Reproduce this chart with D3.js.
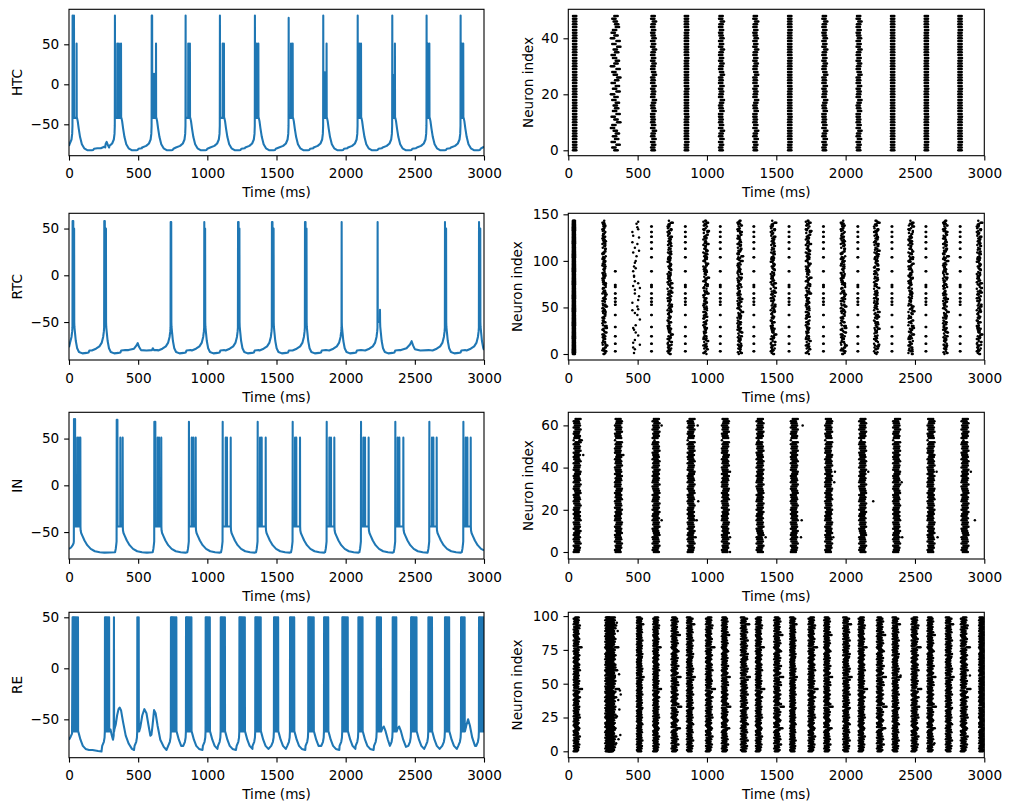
<!DOCTYPE html>
<html lang="en">
<head>
<meta charset="UTF-8">
<title>Thalamic network traces and rasters</title>
<script src="https://cdn.jsdelivr.net/npm/d3@7"></script>
<style>
  body { margin: 0; background: #fff; }
  svg text { font-family: "DejaVu Sans", sans-serif; fill: #000; }
</style>
</head>
<body>
<div id="chart"></div>
<script>
// ---- data ----
const xTicks = [0, 500, 1000, 1500, 2000, 2500, 3000];

// voltage traces: each burst = [onset ms, [[dt, peak, trough?]...], postShape, usePre]
const htcPre = [[-70, -79], [-40, -77], [-20, -74], [-8, -69], [-3, -62], [-1, -52]];
const htcPost = [[[3, -42], [8, -46], [15, -55], [25, -66], [38, -75], [55, -80], [80, -82.5], [110, -82.5], [120, -82.2], [126, -80.5], [150, -80]]];
const htcBursts = [
  [26, [[0, 86], [10, 86], [29, 51]]],
  [332, [[0, 86], [17, 51], [29, 51], [44, 51]]],
  [598, [[0, 86], [3, 86], [17, 13], [31, 51]]],
  [843, [[0, 86], [19, 51], [31, 51]]],
  [1091, [[0, 86], [20, 51], [29, 51]]],
  [1344, [[0, 86], [13, 51], [25, 51]]],
  [1588, [[0, 83], [17, 51], [29, 51]]],
  [1838, [[0, 86], [12, 15], [24, 51]]],
  [2087, [[0, 86], [12, 51], [24, 51]]],
  [2337, [[0, 86], [7, 12], [19, 51]]],
  [2585, [[0, 86], [8, 51], [20, 51]]],
  [2831, [[0, 86], [10, 51], [19, 51]]]
];
const htcExtra = [[0, -77], [230, -80], [255, -78], [265, -74.5], [272, -72], [280, -75.5], [290, -79], [3000, -78]];

const rtcPre = [[-90, -80.5], [-60, -78.5], [-35, -76], [-18, -72], [-8, -66], [-3, -60], [-1, -56]];
const rtcPost = [[[2, -55], [6, -61], [12, -70], [22, -78], [35, -82], [60, -83.5], [90, -83], [105, -82.5], [110, -80.5], [140, -80]]];
const rtcBursts = [
  [26, [[0, 58], [5, 58], [11, 50]]],
  [255, [[0, 58], [4, 58], [12, 50]]],
  [735, [[0, 57], [4, 57]]],
  [978, [[0, 57], [6, 50]]],
  [1222, [[0, 57], [4, 57], [10, 50]]],
  [1467, [[0, 57], [4, 57], [12, 50]]],
  [1706, [[0, 57], [4, 57], [11, 50]]],
  [1971, [[0, 57]]],
  [2231, [[0, 57], [17, -37]]],
  [2718, [[0, 57], [8, 50]]],
  [2964, [[0, 57], [9, 50]]]
];
const rtcExtra = [[0, -77], [430, -80], [470, -78.5], [488, -75], [497, -72.5], [506, -76.5], [520, -80],
  [560, -80.5], [600, -80], [606, -78], [614, -80], [640, -80], [2400, -80], [2440, -78], [2465, -74],
  [2477, -70.5], [2487, -75], [2500, -79], [2540, -80.5], [2600, -80], [3000, -80]];

const inPre = [[-12, -71.5], [-7, -68], [-3, -63], [-1, -60]];
const inPost = [[[2, -48], [6, -51], [15, -54], [30, -59], [50, -64], [75, -68], [105, -70.5], [140, -71.5], [175, -72]]];
const inBursts = [
  [36, [[0, 71], [8, 71], [24, 51], [36, 51], [46, 51]], 0, 0],
  [345, [[0, 70], [5, 70], [26, 51], [43, 51]]],
  [617, [[0, 68], [7, 68], [24, 51], [34, 51], [50, 51]]],
  [867, [[0, 68], [20, 51], [32, 51], [49, 51]]],
  [1111, [[0, 68], [22, 51], [31, 51], [58, 51]]],
  [1364, [[0, 68], [17, 51], [29, 51], [58, 51]]],
  [1617, [[0, 68], [17, 51], [26, 51], [53, 51]]],
  [1863, [[0, 68], [19, 51], [31, 51], [55, 51]]],
  [2111, [[0, 68], [17, 51], [29, 51], [55, 51]]],
  [2359, [[0, 68], [17, 51], [29, 51], [58, 51]]],
  [2605, [[0, 68], [19, 51], [29, 51], [53, 51]]],
  [2851, [[0, 68], [17, 51], [29, 51], [53, 51]]]
];
const inExtra = [[0, -68], [15, -66.5], [27, -64], [33, -62], [35, -60], [3000, -69.5]];

const rePre = [[-20, -76], [-8, -72], [-3, -68], [-1, -62]];
const rePost = [
  [[2, -62], [8, -65], [18, -70], [35, -76], [55, -79], [80, -80]],
  [[2, -62], [10, -59], [20, -57], [32, -61], [50, -70], [70, -77]],
  [[2, -62], [12, -56], [25, -50], [38, -56], [55, -68], [75, -76]]
];
const reSpikeSets = [[0, 4, 8, 13, 18, 24, 31, 39], [0, 5, 10, 16, 23, 30], [0, 5, 11, 18, 26], [0, 10], [0]];
// [onset, spike set, post shape, usePre]
const reBurstList = [
  [26, 0, 0, 0], [260, 1, -1, 1], [325, 4, -1, 0], [494, 3, -1, 1], [737, 0, 0, 1], [846, 0, 0, 1],
  [988, 1, 0, 1], [1097, 1, 0, 1], [1232, 0, 0, 1], [1347, 0, 0, 1], [1482, 1, 0, 1], [1598, 1, 0, 1],
  [1730, 0, 0, 1], [1844, 1, 0, 1], [1976, 0, 0, 1], [2092, 1, 0, 1], [2225, 1, 1, 1], [2340, 2, 1, 1],
  [2473, 0, 0, 1], [2598, 2, 0, 1], [2718, 1, 0, 1], [2834, 2, 2, 1], [2964, 1, 0, 1]
];
const reExtra = [[0, -70], [12, -67], [22, -64], [170, -80], [210, -81], [235, -81.5],
  [293, -62], [300, -60], [310, -66], [318, -70], [323, -66],
  [328, -60], [338, -55], [348, -46], [358, -40], [366, -38.5], [376, -41], [390, -52], [410, -66],
  [432, -74], [455, -79], [470, -80],
  [507, -62], [515, -58], [530, -46], [545, -40], [560, -44], [575, -56], [588, -66], [596, -65],
  [604, -56], [615, -41], [626, -44], [640, -56], [660, -70], [685, -77], [705, -80], [3000, -34]];

// rasters: bursts = [first spike ms, shift unit ms, shift row, count row]
const htcNeurons = 49;
const htcLags = [0, 8, 16, 24];
const htcRasterBursts = [[34, 0, 0], [307, 5, 1], [597, 3, 2], [840, 3, 0], [1087, 3, 2], [1334, 3, 2],
  [1585, 2, 0], [1832, 3, 2], [2079, 3, 2], [2327, 0, 3], [2570, 2, 0], [2813, 2, 0]];
const htcShifts = [
  "000100000000100000000010000000000100000000010000",
  "528163740295183647250837169428057316492805137642",
  "102030140201003102401203010420130201402031020140",
  "000000000000000000000000000000000000000000000000"
];

const rtcNeurons = 144;
const rtcOnsetLags = [0, 5, 10, 15];
const rtcOnset = [[33, 0, 0]];
const rtcLags = [0, 6, 12];
const rtcMainBursts = [[246, 2.6, 0, 0], [462, 6, 1, 1], [716, 3.2, 1, 0], [974, 3.2, 2, 2], [1220, 3.2, 0, 2],
  [1460, 3.5, 1, 0], [1713, 3.2, 2, 2], [1965, 3.5, 0, 0], [2205, 3.5, 1, 2], [2453, 3.5, 2, 0], [2703, 3.2, 0, 2], [2946, 3.5, 1, 0]];
const rtcShifts = [
  "381605274918052736184029640381725063175048362917503826147059268170435812907352418063428061537240715384062951036287145803852604317268140573826035",
  "527043816290184306527814362815047362095274613850731628405176048513726309614270358142270531864027853046172538416825307164025738614250387160425873",
  "703518264037429607153824156382704615840251376098362704185243517038462170284615037592063482715306795103648217308672514083641037258619920548163704"
];
const rtcCounts = [
  "210321120311121031211302112130310121201311021131120312101311211031312012102131120312311210121031120311312101312012102113031121310211112103121301",
  "010001010010100100001001001010010000010000101001100100010010001001000101010010100001100001001010001010000100010100100010100001010001001010001010",
  "121102113121012131121012211312012121102131211301121120312112210213121012121301121131012112130212121031211302211312102131120131212012312101211312"
];
const rtcSecondary = [[337, 92], [598, 143], [842, 143], [1094, 143], [1336, 143], [1590, 143],
  [1838, 143], [2086, 143], [2332, 143], [2577, 143], [2824, 143]];
const rtcSecondaryNeurons = [137, 131, 126, 120, 113, 104, 89, 74, 72, 65, 60, 56, 53, 42, 29, 19, 11, 3];

const inNeurons = 64;
const inLags = [0, 9, 18, 27, 36];
const inRasterBursts = [[39, 4.5, 0], [337, 4.5, 1], [608, 4.5, 2], [861, 4.5, 0], [1108, 4.5, 1], [1358, 4.5, 2],
  [1605, 4.5, 0], [1853, 4.5, 1], [2098, 4.5, 2], [2343, 4.5, 0], [2591, 4.5, 1], [2836, 4.5, 2]];
const inShifts = [
  "0120310201302103120201310210320130210230120310203120301201302103",
  "1021302103120230102130210312023010213021031202301021302103120231",
  "2013021032103120201302130120321030120213021302103120130213021302"
];
const inQuiet = [53];
const inStray = [[97, 53], [88, 53], [80, 53], [108, 46], [397, 46], [673, 60], [673, 15], [933, 60], [937, 24],
  [926, 15], [918, 7], [1166, 38], [1166, 7], [1166, 0], [1423, 7], [1690, 60], [1683, 15], [1678, 7],
  [1923, 38], [1918, 33], [1911, 7], [2163, 38], [2199, 24], [2404, 33], [2408, 7], [2656, 38], [2663, 7],
  [2903, 38], [2932, 15]];

const reNeurons = 100;
const reLags = [0, 8, 16, 24];
const reRasterBursts = [[39, 4, 0], [267, 4, 1], [280, 4, 2], [296, 5, 0], [495, 3, 2], [613, 3.5, 0], [745, 5, 1], [856, 4, 2],
  [993, 4.5, 0], [1108, 4, 1], [1245, 5, 2], [1353, 4, 0], [1485, 5, 1], [1600, 3, 2], [1733, 4.5, 0],
  [1846, 4, 1], [1983, 4.5, 2], [2094, 4, 0], [2226, 5, 1], [2339, 4, 2], [2476, 5, 0], [2591, 4, 1],
  [2723, 4, 2], [2831, 5, 0], [2963, 3, 1]];
const reShifts = [
  "0213041203150210342013021504120314021302510240912031402130215031420130241203180213042103120415021303",
  "1302150214031201370210342013041209152013024103120514021802410315021304120253102140312071402130214031",
  "2031402150312041302153021403120350214031205130241302150812041503120213405120314021503120413021702140"
];
const reStray = [[350, 95], [356, 89], [340, 62], [352, 60], [366, 57], [372, 45], [378, 42], [360, 38],
  [368, 31], [350, 26], [375, 12], [362, 9], [345, 6], [2396, 56], [2896, 56], [2640, 6], [2530, 33],
  [1030, 53], [1290, 68]];

// ---- layout ----
const width = 1011, height = 811;
const rowBox = [[9.3, 155.7], [213.3, 360], [412.3, 559], [612.3, 757.7]];
const colBox = [[69, 484], [568.3, 984.3]];
const fontSize = 13.6;

// ---- build marks ----
function buildTrace(bursts, pre, posts, extras, trough) {
  const pts = [];
  bursts.forEach((b, i) => {
    const [t0, spikes, postIdx = 0, usePre = 1] = b;
    const next = bursts[i + 1];
    const limit = next ? next[0] + ((next[3] ?? 1) ? pre[0][0] : 0) : 3000;
    if (usePre) pre.forEach(([dt, v]) => { if (t0 + dt >= 0) pts.push([t0 + dt, v]); });
    let prevTrough = null;
    spikes.forEach(([dt, peak, tr]) => {
      if (prevTrough !== null) pts.push([t0 + dt - 0.8, prevTrough]);
      pts.push([t0 + dt, peak]);
      prevTrough = tr ?? trough;
      pts.push([t0 + dt + 1, prevTrough]);
    });
    const last = t0 + spikes[spikes.length - 1][0];
    if (postIdx >= 0) posts[postIdx].forEach(([dt, v]) => {
      if (last + dt < limit && last + dt <= 3000) pts.push([last + dt, v]);
    });
  });
  extras.forEach(p => pts.push(p));
  return pts.sort((a, b) => a[0] - b[0]);
}

function rasterFrom(bursts, lags, shifts, counts, nNeurons, quiet = []) {
  const dots = [];
  bursts.forEach(([t0, unit, si, ci]) => {
    const s = shifts[si];
    const c = counts ? counts[ci] : null;
    for (let n = 0; n < nNeurons; n++) {
      const shift = +s[n % s.length] * unit;
      let k = c ? +c[n % c.length] : lags.length;
      if (quiet.includes(n)) k = 1;
      for (let j = 0; j < Math.min(k, lags.length); j++) dots.push([t0 + shift + lags[j], n]);
    }
  });
  return dots;
}

const htcTrace = buildTrace(htcBursts, htcPre, htcPost, htcExtra, -42);
const rtcTrace = buildTrace(rtcBursts, rtcPre, rtcPost, rtcExtra, -50);
const inTrace = buildTrace(inBursts, inPre, inPost, inExtra, -44);
const reBursts = reBurstList.map(([t, s, p, u]) => [t, reSpikeSets[s].map(d => [d, 50]), p, u]);
const reTrace = buildTrace(reBursts, rePre, rePost, reExtra, -62);

const htcDots = rasterFrom(htcRasterBursts, htcLags, htcShifts, null, htcNeurons);
const rtcDots = rasterFrom(rtcOnset, rtcOnsetLags, ["0"], null, rtcNeurons)
  .concat(rasterFrom(rtcMainBursts, rtcLags, rtcShifts, rtcCounts, rtcNeurons));
rtcSecondary.forEach(([t, maxN]) => {
  rtcSecondaryNeurons.filter(n => n <= maxN).forEach(n => { rtcDots.push([t, n]); rtcDots.push([t + 4, n]); });
});
const inDots = rasterFrom(inRasterBursts, inLags, inShifts, null, inNeurons, inQuiet).concat(inStray);
const reDots = rasterFrom(reRasterBursts, reLags, reShifts, null, reNeurons).concat(reStray);

const panels = [
  { row: 0, col: 0, trace: htcTrace, yDomain: [-89.25, 93.75], yTicks: [-50, 0, 50], label: "HTC" },
  { row: 0, col: 1, dots: htcDots, yDomain: [-1.93, 50.36], yTicks: [0, 20, 40], label: "Neuron index" },
  { row: 1, col: 0, trace: rtcTrace, yDomain: [-90.6, 66.3], yTicks: [-50, 0, 50], label: "RTC" },
  { row: 1, col: 1, dots: rtcDots, yDomain: [-6.44, 151.1], yTicks: [0, 50, 100, 150], label: "Neuron index" },
  { row: 2, col: 0, trace: inTrace, yDomain: [-78.8, 78.1], yTicks: [-50, 0, 50], label: "IN" },
  { row: 2, col: 1, dots: inDots, yDomain: [-3.32, 66.2], yTicks: [0, 20, 40, 60], label: "Neuron index" },
  { row: 3, col: 0, trace: reTrace, yDomain: [-87.6, 54.9], yTicks: [-50, 0, 50], label: "RE" },
  { row: 3, col: 1, dots: reDots, yDomain: [-4.73, 102.8], yTicks: [0, 25, 50, 75, 100], label: "Neuron index" }
];

// ---- draw ----
const svg = d3.select("#chart").append("svg")
  .attr("width", width)
  .attr("height", height);

const minus = d => d < 0 ? "\u2212" + Math.abs(d) : String(d);

panels.forEach(p => {
  const [x0, x1] = colBox[p.col];
  const [y0, y1] = rowBox[p.row];
  const x = d3.scaleLinear().domain([0, 3000]).range([x0, x1]);
  const y = d3.scaleLinear().domain(p.yDomain).range([y1, y0]);
  const clipId = `clip-${p.row}-${p.col}`;

  svg.append("clipPath").attr("id", clipId)
    .append("rect")
    .attr("x", x0).attr("y", y0)
    .attr("width", x1 - x0).attr("height", y1 - y0);

  const g = svg.append("g").attr("clip-path", `url(#${clipId})`);

  if (p.trace) {
    g.append("path")
      .datum(p.trace)
      .attr("fill", "none")
      .attr("stroke", "#1f77b4")
      .attr("stroke-width", 2.08)
      .attr("stroke-linejoin", "round")
      .attr("d", d3.line().x(d => x(d[0])).y(d => y(d[1])));
  } else {
    g.selectAll("circle")
      .data(p.dots)
      .join("circle")
      .attr("cx", d => x(d[0]))
      .attr("cy", d => y(d[1]))
      .attr("r", 1.25)
      .attr("fill", "#000");
  }

  const xAxis = d3.axisBottom(x).tickValues(xTicks).tickSize(4.86).tickPadding(8).tickFormat(d3.format("d"));
  const yAxis = d3.axisLeft(y).tickValues(p.yTicks).tickSize(4.86).tickPadding(4.86).tickFormat(minus);

  const gx = svg.append("g").attr("transform", `translate(0,${y1})`).call(xAxis);
  const gy = svg.append("g").attr("transform", `translate(${x0},0)`).call(yAxis);
  [gx, gy].forEach(a => {
    a.attr("font-family", null).attr("font-size", null);
    a.select(".domain").remove();
    a.selectAll(".tick line").attr("stroke", "#000").attr("stroke-width", 1.1);
    a.selectAll(".tick text").attr("font-size", fontSize).attr("fill", "#000");
  });

  // spines
  svg.append("rect")
    .attr("x", x0).attr("y", y0)
    .attr("width", x1 - x0).attr("height", y1 - y0)
    .attr("fill", "none")
    .attr("stroke", "#000")
    .attr("stroke-width", 1.1);

  svg.append("text")
    .attr("x", (x0 + x1) / 2)
    .attr("y", y1 + 41.5)
    .attr("text-anchor", "middle")
    .attr("font-size", fontSize)
    .text("Time (ms)");

  const wide = p.yTicks.some(t => Math.abs(t) >= 100);
  const labelX = p.col === 0 ? 16.7 : (wide ? 516.7 : 527.7);
  svg.append("text")
    .attr("transform", `translate(${labelX},${(y0 + y1) / 2}) rotate(-90)`)
    .attr("dy", "0.36em")
    .attr("text-anchor", "middle")
    .attr("font-size", fontSize)
    .text(p.label);
});
</script>
</body>
</html>
